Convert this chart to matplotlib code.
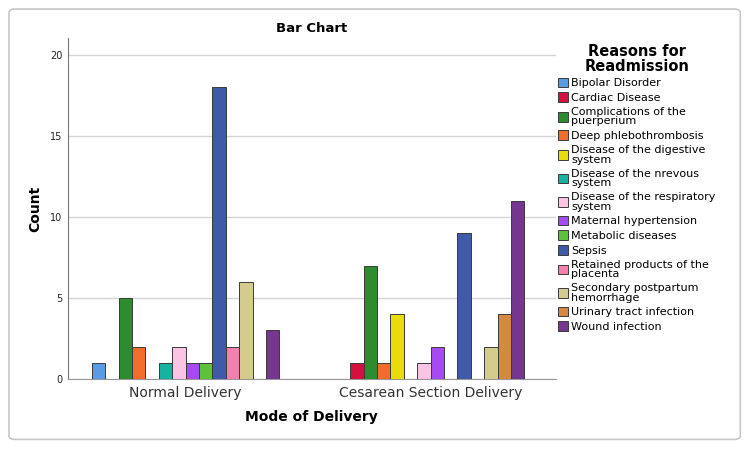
import numpy as np
import matplotlib.pyplot as plt
from matplotlib.patches import FancyBboxPatch

groups = ["Normal Delivery", "Cesarean Section Delivery"]
reasons = ["Bipolar Disorder", "Cardiac Disease", "Complications of the\npuerperium",
           "Deep phlebothrombosis", "Disease of the digestive\nsystem",
           "Disease of the nrevous\nsystem", "Disease of the respiratory\nsystem",
           "Maternal hypertension", "Metabolic diseases", "Sepsis",
           "Retained products of the\nplacenta", "Secondary postpartum\nhemorrhage",
           "Urinary tract infection", "Wound infection"]
normal = [1, 0, 5, 2, 0, 1, 2, 1, 1, 18, 2, 6, 0, 3]
cesarean = [0, 1, 7, 1, 4, 0, 1, 2, 0, 9, 0, 2, 4, 11]
colors = ["#5A9BE6", "#D5103F", "#2E8B2E", "#F26D2B", "#E8DC0A", "#16B3A0", "#FCC4E4",
          "#A64BF4", "#5DC23A", "#3F5AA8", "#F57FAE", "#D3CC8E", "#D38A3C", "#75368F"]

fig = plt.figure(figsize=(7.5, 4.53), dpi=100)
fig.patches.append(FancyBboxPatch((0.012, 0.03), 0.975, 0.95, boxstyle="round,pad=0,rounding_size=0.008",
                                  transform=fig.transFigure, fill=False, ec="#c8c8c8", lw=1.2))
ax = fig.add_axes([0.0907, 0.1634, 0.65, 0.7527])

x = np.arange(len(groups))
w = 0.0547
for i, r in enumerate(reasons):
    vals = [normal[i], cesarean[i]]
    ax.bar(x + (i - 6.5) * w, vals, width=w, color=colors[i], edgecolor="#3a3a3a", lw=0.7,
           label=r, zorder=3)

ax.set_xlim(-0.48, 1.51)
ax.set_ylim(0, 21.05)
ax.set_yticks([0, 5, 10, 15, 20])
ax.set_xticks(x)
ax.set_xticklabels(groups, fontsize=10, color="#333333")
ax.tick_params(axis="y", labelsize=7, length=0, pad=4, colors="#222222")
ax.tick_params(axis="x", length=0, pad=5)
ax.grid(axis="y", color="#d4d4d4", lw=1, zorder=0)
for s in ["top", "right"]:
    ax.spines[s].set_visible(False)
ax.spines["left"].set_color("#777777")
ax.spines["bottom"].set_color("#999999")

ax.set_title("Bar Chart", fontsize=9.5, fontweight="bold", pad=4)
ax.set_ylabel("Count", fontsize=10, fontweight="bold", labelpad=6)
ax.set_xlabel("Mode of Delivery", fontsize=10, fontweight="bold", labelpad=7)

leg = ax.legend(title="Reasons for\nReadmission", loc="upper left", bbox_to_anchor=(0.995, 0.995),
                frameon=False, fontsize=8.0, title_fontproperties={"weight": "bold", "size": 10.5},
                handlelength=0.95, handleheight=0.95, handletextpad=0.3, labelspacing=0.36,
                borderaxespad=0)
leg.get_title().set_linespacing(0.95)
leg.get_title().set_multialignment("center")
for t in leg.get_texts():
    t.set_linespacing(0.95)

fig.savefig("out.png", dpi=100)
